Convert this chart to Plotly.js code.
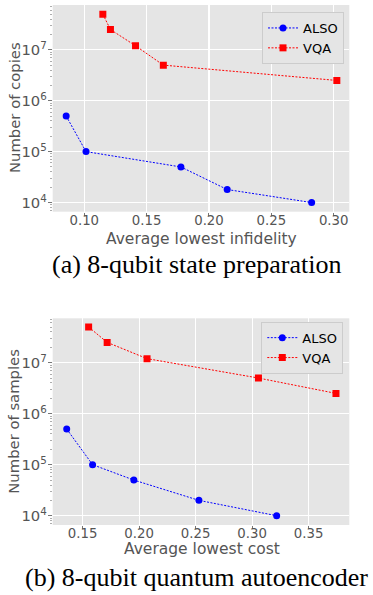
<!DOCTYPE html>
<html>
<head>
<meta charset="utf-8">
<script src="https://cdn.plot.ly/plotly-3.0.1.min.js"></script>
<style>html,body{margin:0;padding:0;background:#fff;}#chart{width:373px;height:595px;}</style>
</head>
<body>
<div id="chart"></div>
<script>
// (a) 8-qubit state preparation
var stateAlsoX = [0.0855, 0.1014, 0.1775, 0.2146, 0.2823];
var stateAlsoY = [5e5, 1e5, 5e4, 1.8e4, 1e4];
var stateVqaX = [0.1149, 0.1210, 0.1411, 0.1634, 0.3025];
var stateVqaY = [5e7, 2.5e7, 1.2e7, 5e6, 2.5e6];
// (b) 8-qubit quantum autoencoder
var aeAlsoX = [0.1359, 0.1588, 0.1953, 0.2529, 0.3217];
var aeAlsoY = [5e5, 1e5, 5e4, 2e4, 1e4];
var aeVqaX = [0.1553, 0.1717, 0.2070, 0.3056, 0.3742];
var aeVqaY = [5e7, 2.5e7, 1.2e7, 5e6, 2.5e6];

var seriesNames = ['ALSO', 'VQA'];
var xTitles = ['Average lowest infidelity', 'Average lowest cost'];
var yTitles = ['Number of copies', 'Number of samples'];
var captions = ['(a) 8-qubit state preparation', '(b) 8-qubit quantum autoencoder'];

var BLUE = '#0000ff', RED = '#ff0000';
function tr(x, y, name, color, sym, xa, ya, lg) {
  return {
    x: x, y: y, name: name, type: 'scatter', mode: 'lines+markers',
    xaxis: xa, yaxis: ya, legend: lg,
    line: {color: color, width: 1, dash: '2px,1.5px'},
    marker: {color: color, symbol: sym, size: 7, line: {width: 0}}
  };
}
var data = [
  tr(stateAlsoX, stateAlsoY, seriesNames[0], BLUE, 'circle', 'x', 'y', 'legend'),
  tr(stateVqaX, stateVqaY, seriesNames[1], RED, 'square', 'x', 'y', 'legend'),
  tr(aeAlsoX, aeAlsoY, seriesNames[0], BLUE, 'circle', 'x2', 'y2', 'legend2'),
  tr(aeVqaX, aeVqaY, seriesNames[1], RED, 'square', 'x2', 'y2', 'legend2')
];

var xTickFont = {family: 'DejaVu Sans', size: 13.3, color: '#555555'};
var yTickFont = {family: 'DejaVu Sans', size: 11.8, color: '#555555'};
var xTitleFont = {family: 'DejaVu Sans', size: 15.5, color: '#555555'};
var yTitleFont = {family: 'DejaVu Sans', size: 14.8, color: '#555555'};
var W = 373, H = 595;
var xDom = [52.7 / W, 349.3 / W];

function xax(range, anchor) {
  return {
    domain: xDom, anchor: anchor, range: range, tick0: 0, dtick: 0.05, tickformat: '.2f',
    showgrid: true, gridcolor: '#ffffff', gridwidth: 1.1, zeroline: false, showline: false,
    ticks: 'outside', ticklen: 3, tickwidth: 0.8, tickcolor: '#555555', ticklabelstandoff: -7,
    tickfont: xTickFont, automargin: false
  };
}
function yax(domain, range, anchor) {
  return {
    domain: domain, anchor: anchor, type: 'log', range: range, dtick: 1, exponentformat: 'power',
    showgrid: true, gridcolor: '#ffffff', gridwidth: 1.1, zeroline: false, showline: false,
    ticks: 'outside', ticklen: 3.5, tickwidth: 0.8, tickcolor: '#555555', ticklabelstandoff: -1,
    minor: {ticks: 'outside', ticklen: 2, tickwidth: 0.6, tickcolor: '#777777', dtick: 'D1', showgrid: false},
    tickfont: yTickFont, automargin: false
  };
}
var legendBase = {
  xanchor: 'right', yanchor: 'top', bgcolor: '#e5e5e5', bordercolor: '#cccccc', borderwidth: 1,
  font: {family: 'DejaVu Sans', size: 13, color: '#000000'}, tracegroupgap: 0, itemwidth: 30
};
function note(text, x, y, font, angle) {
  return {text: text, xref: 'paper', yref: 'paper', x: x / W, y: 1 - y / H,
    xanchor: 'center', yanchor: 'middle', showarrow: false, textangle: angle || 0, font: font};
}
var capFont = {family: 'Liberation Serif', size: 26, color: '#000000'};
var layout = {
  width: W, height: H, margin: {l: 0, r: 0, t: 0, b: 0},
  paper_bgcolor: '#ffffff', plot_bgcolor: '#e5e5e5', showlegend: true,
  xaxis: xax([0.0747, 0.3125], 'y'),
  yaxis: yax([1 - 211.7 / H, 1 - 5 / H], [3.82, 7.88], 'x'),
  xaxis2: xax([0.1235, 0.386], 'y2'),
  yaxis2: yax([1 - 525 / H, 1 - 318.3 / H], [3.818, 7.87], 'x2'),
  legend: Object.assign({}, legendBase, {x: 344 / W, y: 1 - 12 / H}),
  legend2: Object.assign({}, legendBase, {x: 343.3 / W, y: 1 - 321.7 / H}),
  annotations: [
    note(xTitles[0], 201.5, 238.5, xTitleFont),
    note(yTitles[0], 14, 108, yTitleFont, -90),
    note(xTitles[1], 202, 549, xTitleFont),
    note(yTitles[1], 14, 421.7, yTitleFont, -90),
    note(captions[0], 196.5, 264.2, capFont),
    note(captions[1], 196, 577.2, capFont)
  ]
};
Plotly.newPlot('chart', data, layout, {displayModeBar: false, staticPlot: true});
</script>
</body>
</html>
